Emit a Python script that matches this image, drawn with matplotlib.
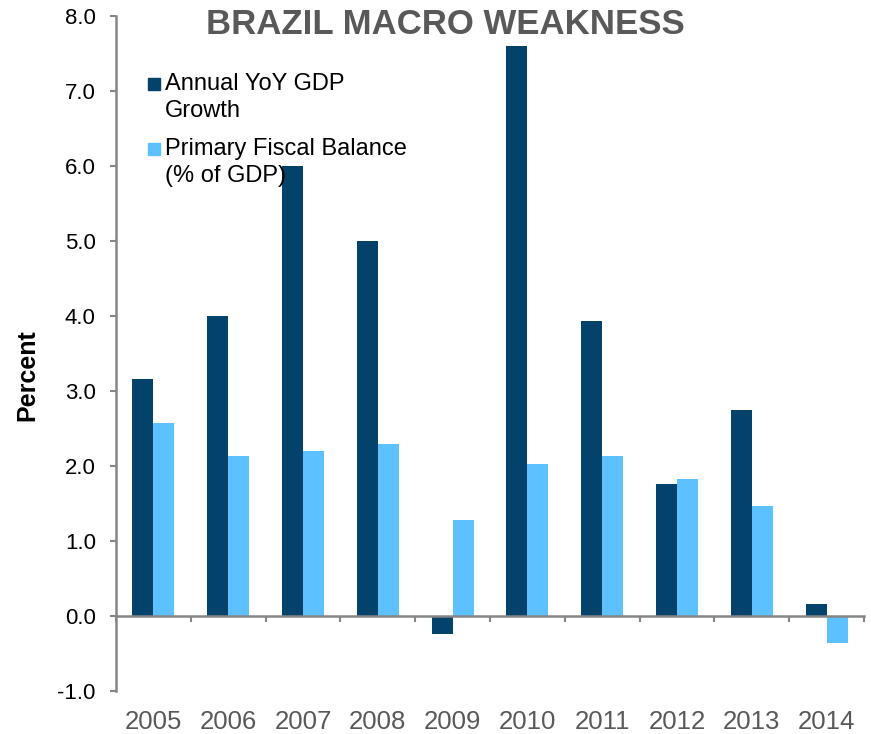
import numpy as np
import matplotlib
matplotlib.use('Agg')
import matplotlib.pyplot as plt
from matplotlib.patches import Rectangle

plt.rcParams['font.family'] = ['Liberation Sans', 'DejaVu Sans']

years = ['2005', '2006', '2007', '2008', '2009', '2010', '2011', '2012', '2013', '2014']
gdp_growth = [3.16, 4.00, 5.99, 5.00, -0.25, 7.60, 3.93, 1.76, 2.74, 0.16]
fiscal_balance = [2.57, 2.13, 2.19, 2.29, 1.28, 2.02, 2.13, 1.82, 1.46, -0.37]
labels = ['Annual YoY GDP\nGrowth', 'Primary Fiscal Balance\n(% of GDP)']

dark = '#02426B'
light = '#5EC1FF'
grey = '#868686'

fig = plt.figure(figsize=(8.71, 7.34), dpi=100)
ax = fig.add_axes([116/871, 1 - 690.7/734, (864 - 116)/871, (690.7 - 15.7)/734])

x = np.arange(len(years))
w = 0.28
ax.bar(x - w/2, gdp_growth, w, color=dark, zorder=2)
ax.bar(x + w/2, fiscal_balance, w, color=light, zorder=2)

ax.set_xlim(-0.5, len(years) - 0.5)
ax.set_ylim(-1, 8)
ax.set_yticks(np.arange(-1, 9, 1))
ax.set_yticklabels(['{:.1f}'.format(v) for v in np.arange(-1, 9, 1)], fontsize=16)
ax.tick_params(axis='y', length=4.5, width=1.5, color=grey, pad=10)

# x axis sits on zero, ticks at category boundaries
ax.spines['bottom'].set_position(('data', 0))
for s in ['top', 'right']:
    ax.spines[s].set_visible(False)
for s in ['left', 'bottom']:
    ax.spines[s].set_color(grey)
    ax.spines[s].set_linewidth(1.8)
ax.set_xticks(np.arange(-0.5, len(years), 1))
ax.set_xticklabels([])
ax.tick_params(axis='x', length=4.5, width=1.5, color=grey, direction='out')

for xi, yr in zip(x, years):
    ax.text(xi, -0.046, yr, transform=ax.get_xaxis_transform(), ha='center', va='center',
            fontsize=18.5, color='#595959')

ax.set_ylabel('Percent', fontsize=18, fontweight='bold')
ax.yaxis.set_label_coords(-0.103, 0.468)

fig.text(445/871, 1 - 25/734, 'BRAZIL MACRO WEAKNESS', ha='center', va='center',
         fontsize=25, fontweight='bold', color='#595959')

# legend drawn by hand so the swatch sits on the first line
for i, (lab, col) in enumerate(zip(labels, [dark, light])):
    ybase = 1 - (90 + 65 * i) / 734
    fig.patches.append(Rectangle((148/871, ybase), 12/871, 12/734,
                                 transform=fig.transFigure, color=col))
    fig.text(165/871, ybase + 17/734, lab, ha='left', va='top', fontsize=17,
             linespacing=1.27)

fig.savefig('out.png', dpi=100)
